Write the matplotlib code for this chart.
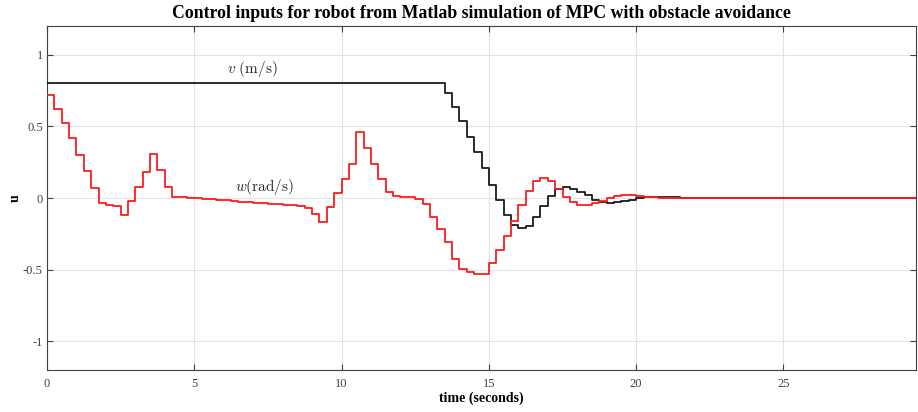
import numpy as np
import matplotlib
matplotlib.use("Agg")
import matplotlib.pyplot as plt

# Sample period of the MPC controller (s)
dt = 0.25

# Linear velocity command v (m/s), one value per control interval
v_cmd = [
    0.8, 0.8, 0.8, 0.8, 0.8, 0.8, 0.8, 0.8, 0.8, 0.8,
    0.8, 0.8, 0.8, 0.8, 0.8, 0.8, 0.8, 0.8, 0.8, 0.8,
    0.8, 0.8, 0.8, 0.8, 0.8, 0.8, 0.8, 0.8, 0.8, 0.8,
    0.8, 0.8, 0.8, 0.8, 0.8, 0.8, 0.8, 0.8, 0.8, 0.8,
    0.8, 0.8, 0.8, 0.8, 0.8, 0.8, 0.8, 0.8, 0.8, 0.8,
    0.8, 0.8, 0.8, 0.8, 0.736, 0.634, 0.535, 0.428, 0.321, 0.206,
    0.094, -0.014, -0.118, -0.188, -0.208, -0.195, -0.13, -0.058, 0.016, 0.065,
    0.075, 0.06, 0.04, 0.018, -0.015, -0.028, -0.033, -0.03, -0.023, -0.014,
    -0.003, 0.004, 0.006, 0.006, 0.005, 0.004, 0.003, 0.002, 0.002, 0.001,
    0.001, 0.0, 0.0, 0.0, 0.0, 0.0, 0.0, 0.0, 0.0, 0.0,
    0.0, 0.0, 0.0, 0.0, 0.0, 0.0, 0.0, 0.0, 0.0, 0.0,
    0.0, 0.0, 0.0, 0.0, 0.0, 0.0, 0.0, 0.0,
]

# Angular velocity command w (rad/s)
w_cmd = [
    0.722, 0.62, 0.521, 0.417, 0.30, 0.19, 0.072, -0.035, -0.047, -0.056,
    -0.116, -0.023, 0.078, 0.178, 0.31, 0.196, 0.076, 0.008, 0.005, 0.003,
    0.0, -0.004, -0.009, -0.013, -0.017, -0.021, -0.025, -0.029, -0.033, -0.036,
    -0.04, -0.044, -0.048, -0.051, -0.055, -0.072, -0.11, -0.17, -0.064, 0.033,
    0.136, 0.234, 0.46, 0.35, 0.239, 0.132, 0.04, 0.016, 0.009, 0.005,
    -0.004, -0.044, -0.13, -0.217, -0.305, -0.423, -0.492, -0.518, -0.532, -0.528,
    -0.454, -0.361, -0.262, -0.16, -0.051, 0.046, 0.12, 0.139, 0.12, 0.065,
    0.01, -0.03, -0.049, -0.049, -0.035, -0.019, -0.003, 0.012, 0.02, 0.02,
    0.016, 0.009, 0.005, 0.002, 0.0, -0.001, -0.002, -0.003, -0.003, -0.003,
    -0.002, -0.002, -0.001, -0.001, 0.0, 0.0, 0.0, 0.0, 0.0, 0.0,
    0.0, 0.0, 0.0, 0.0, 0.0, 0.0, 0.0, 0.0, 0.0, 0.0,
    0.0, 0.0, 0.0, 0.0, 0.0, 0.0, 0.0, 0.0,
]

x_ticks = [0, 5, 10, 15, 20, 25]
y_ticks = [-1, -0.5, 0, 0.5, 1]
y_tick_labels = ["-1", "-0.5", "0", "0.5", "1"]

serif = ["Liberation Serif", "DejaVu Serif"]
plt.rcParams["mathtext.fontset"] = "cm"

n = len(v_cmd)
t = np.arange(n + 1) * dt
v_plot = np.append(v_cmd, v_cmd[-1])
w_plot = np.append(w_cmd, w_cmd[-1])

fig = plt.figure(figsize=(9.18, 4.12), dpi=100)
ax = fig.add_axes([47 / 918, 1 - 370 / 412, (916 - 47) / 918, (370 - 26) / 412])

ax.step(t, v_plot, where="post", color="#1a1a1a", lw=1.3, zorder=3)
ax.step(t, w_plot, where="post", color="#ff1a1a", lw=1.3, zorder=4)

ax.set_xlim(0, 29.5)
ax.set_ylim(-1.2, 1.2)
ax.set_xticks(x_ticks)
ax.set_xticklabels([str(x) for x in x_ticks], fontfamily=serif, fontsize=9, color="#404040")
ax.set_yticks(y_ticks)
ax.set_yticklabels(y_tick_labels, fontfamily=serif, fontsize=9, color="#404040")
ax.tick_params(direction="in", length=4, width=0.8, color="#404040",
               top=True, right=True)
ax.tick_params(axis="x", pad=6)
ax.tick_params(axis="y", pad=3)

ax.grid(True, color="#e3e3e3", lw=0.8, zorder=0)
for s in ax.spines.values():
    s.set_color("#404040")
    s.set_linewidth(0.8)

ax.text(6.96, 0.9, r"$v\ \mathrm{(m/s)}$", fontsize=11, ha="center", va="center", color="#262626")
ax.text(7.4, 0.08, r"$w\mathrm{(rad/s)}$", fontsize=11, ha="center", va="center", color="#262626")

ax.set_title("Control inputs for robot from Matlab simulation of MPC with obstacle avoidance",
             fontfamily=serif, fontweight="bold", fontsize=12.8, pad=6)
ax.set_xlabel("time (seconds)", fontfamily=serif, fontweight="bold", fontsize=10, labelpad=1)
ax.set_ylabel("u", fontfamily=serif, fontweight="bold", fontsize=10,
              rotation=90, ha="center", va="center")
ax.yaxis.set_label_coords(-0.036, 0.5)

fig.savefig("out.png", dpi=100)
